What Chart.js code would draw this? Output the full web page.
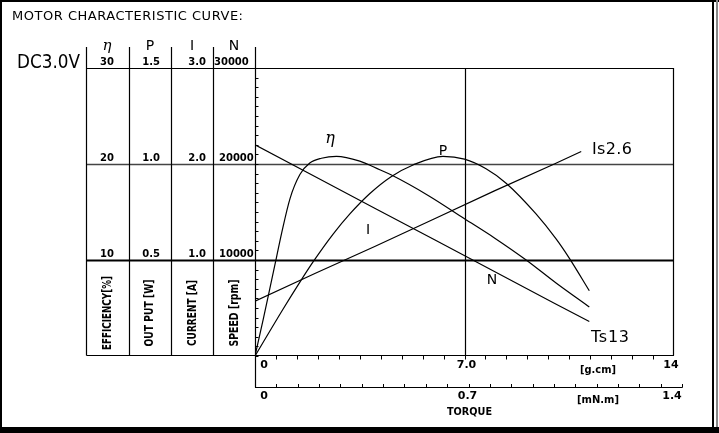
<!DOCTYPE html>
<html>
<head>
<meta charset="utf-8">
<style>
  html, body { margin: 0; padding: 0; background: #fff; }
  canvas { display: block; }
</style>
<script src="https://cdn.jsdelivr.net/npm/chart.js@4"></script>
</head>
<body>
<canvas id="motorChart" width="719" height="433"></canvas>
<script>
// values (torque in g.cm)
const torqueEta = [0, 0.28, 0.44, 0.72, 0.89, 1.17, 1.5, 1.83, 2.22, 2.72, 3.5, 4.17, 4.56, 5.8, 7.0, 8.0, 9.06, 10.06, 11.17];
const efficiency = [0, 3.9, 6.2, 10.3, 12.8, 16.4, 18.9, 20.1, 20.6, 20.8, 20.3, 19.4, 18.85, 16.7, 14.3, 12.3, 10.0, 7.6, 5.1];

const torqueP = [0, 0.94, 1.5, 1.94, 2.61, 3.17, 3.83, 4.56, 5.28, 6.28, 7.0, 7.72, 8.39, 9.39, 10.06, 10.5, 11.17];
const outputPower = [0, 0.245, 0.385, 0.49, 0.635, 0.74, 0.845, 0.935, 0.995, 1.04, 1.025, 0.975, 0.9, 0.74, 0.61, 0.51, 0.34];

const torqueI = [0, 2, 4, 6, 8, 10, 10.9];
const current = [0.57, 0.86, 1.14, 1.43, 1.72, 2.00, 2.13];

const torqueN = [0, 2, 4, 6, 8, 10, 11.17];
const speed = [22000, 18700, 15400, 12100, 8800, 5500, 3600];

const columnHeads = ['η', 'P', 'I', 'N'];
const columnNames = ['EFFICIENCY[%]', 'OUT PUT [W]', 'CURRENT [A]', 'SPEED [rpm]'];
const rowSpeeds = [30000, 20000, 10000];
const rowLabels = [
  ['30', '1.5', '3.0', '30000'],
  ['20', '1.0', '2.0', '20000'],
  ['10', '0.5', '1.0', '10000']
];
const gcmTicks = [0, 7, 14];
const gcmLabels = ['0', '7.0', '14'];
const mnmTicks = [0, 0.7, 1.4];
const mnmLabels = ['0', '0.7', '1.4'];

function pts(xs, ys) {
  return xs.map((v, i) => ({ x: v, y: ys[i] }));
}

function line(ctx, x1, y1, x2, y2, w, color) {
  ctx.beginPath();
  ctx.lineWidth = w || 1;
  ctx.strokeStyle = color || '#000';
  ctx.moveTo(x1, y1);
  ctx.lineTo(x2, y2);
  ctx.stroke();
}

function text(ctx, s, x, y, font, align, width) {
  ctx.font = font;
  ctx.textAlign = align || 'left';
  ctx.fillStyle = '#000';
  if (width) {
    const w = ctx.measureText(s).width;
    if (w > width) {
      ctx.fillText(s, x, y, width);
    } else {
      ctx.letterSpacing = ((width - w) / Math.max(1, s.length - 1)) + 'px';
      ctx.fillText(s, x, y);
      ctx.letterSpacing = '0px';
    }
  } else {
    ctx.fillText(s, x, y);
  }
}

const sheet = {
  id: 'sheet',
  beforeDatasetsDraw(chart) {
    const ctx = chart.ctx;
    const x = chart.scales.x, yN = chart.scales.yN;
    const L = x.left, R = x.right;
    const tableLeft = 86.5;
    const cols = [86.5, 129.5, 171.5, 213.5, 255.5];
    const axisY = 355.5;
    ctx.save();

    // outer frame
    ctx.fillStyle = '#000';
    ctx.fillRect(0, 0, 719, 2);
    ctx.fillRect(0, 0, 2, 433);
    ctx.fillRect(712, 0, 2, 433);
    ctx.fillStyle = '#888';
    ctx.fillRect(716, 0, 2, 433);
    ctx.fillStyle = '#000';
    ctx.fillRect(0, 427, 719, 6);

    // table + grid
    rowSpeeds.forEach(v => {
      const py = Math.round(yN.getPixelForValue(v)) + 0.5;
      if (v === 10000) line(ctx, tableLeft, py, R, py, 2, '#000');
      else if (v === 20000) line(ctx, tableLeft, py, R, py, 1.3, '#444');
      else line(ctx, tableLeft, py, R, py, 1.2, '#000');
    });
    line(ctx, tableLeft, axisY, R, axisY, 1.2);
    cols.forEach(cx => line(ctx, cx, 47, cx, axisY, 1.2));
    line(ctx, L + 0.5, axisY, L + 0.5, 387.5, 1.2);
    const x7 = Math.round(x.getPixelForValue(7)) + 0.5;
    line(ctx, x7, yN.top, x7, axisY, 1.2);
    line(ctx, R - 0.5, yN.top, R - 0.5, axisY, 1.2);

    // speed minor ticks
    for (let v = 0; v <= 30000; v += 1000) {
      const py = Math.round(yN.getPixelForValue(v)) + 0.5;
      line(ctx, L, py, L + 3.5, py, 1);
    }
    // g.cm ticks
    for (let i = 1; i < 20; i++) {
      const px = Math.round(x.getPixelForValue(i * 0.7)) + 0.5;
      line(ctx, px, axisY, px, axisY + 4, 1);
    }
    // mN.m axis
    const mnmX = v => L + v / 1.4 * 427;
    line(ctx, L, 387.5, mnmX(1.4) + 0.5, 387.5, 1.2);
    for (let i = 1; i <= 20; i++) {
      const px = Math.round(mnmX(i * 0.07)) + 0.5;
      line(ctx, px, 387.5, px, 384, 1);
    }
    ctx.restore();
  },
  afterDatasetsDraw(chart) {
    const ctx = chart.ctx;
    const x = chart.scales.x, yN = chart.scales.yN;
    const L = x.left;
    ctx.save();
    ctx.textBaseline = 'alphabetic';

    text(ctx, 'MOTOR CHARACTERISTIC CURVE:', 12, 20, '13px "DejaVu Sans"', 'left', 231);
    text(ctx, 'DC3.0V', 17, 68, '19px "DejaVu Sans"', 'left', 63);

    const centers = [107, 150, 192, 234];
    columnHeads.forEach((h, i) => {
      const f = i === 0 ? 'italic 15px "DejaVu Serif"' : '14px "DejaVu Sans"';
      text(ctx, h, centers[i], 50, f, 'center');
    });
    rowSpeeds.forEach((v, r) => {
      const base = Math.round(yN.getPixelForValue(v)) - 3;
      const f = 'bold 10px "DejaVu Sans"';
      text(ctx, rowLabels[r][0], 107, base, f, 'center');
      text(ctx, rowLabels[r][1], 160, base, f, 'right');
      text(ctx, rowLabels[r][2], 206, base, f, 'right');
      text(ctx, rowLabels[r][3], r === 0 ? 214 : 219, base, f, 'left');
    });

    // rotated column names
    const rotX = [108, 150, 193, 235];
    const rotW = [74, 67, 66, 67];
    columnNames.forEach((s, i) => {
      ctx.save();
      ctx.translate(rotX[i], 313);
      ctx.rotate(-Math.PI / 2);
      ctx.textBaseline = 'middle';
      ctx.font = 'bold 13px "DejaVu Sans"';
      ctx.textAlign = 'center';
      ctx.fillStyle = '#000';
      ctx.fillText(s, 0, 0, rotW[i]);
      ctx.restore();
    });

    // curve labels
    text(ctx, 'η', 330, 143, 'italic 16px "DejaVu Serif"', 'center');
    text(ctx, 'P', 443, 155, '14px "DejaVu Sans"', 'center');
    text(ctx, 'I', 368, 234, '14px "DejaVu Sans"', 'center');
    text(ctx, 'N', 492, 284, '14px "DejaVu Sans"', 'center');
    text(ctx, 'Is2.6', 592, 154, '16px "DejaVu Sans"', 'left', 40);
    text(ctx, 'Ts13', 591, 342, '16px "DejaVu Sans"', 'left', 38);

    // torque axes labels
    const fb = 'bold 11px "DejaVu Sans"';
    gcmTicks.forEach((t, i) => {
      const px = x.getPixelForValue(t);
      const dx = i === 0 ? 9 : (i === 1 ? 2 : -3);
      text(ctx, gcmLabels[i], px + dx, 368, fb, 'center');
    });
    text(ctx, '[g.cm]', 598, 373, 'bold 10px "DejaVu Sans"', 'center', 36);
    mnmTicks.forEach((t, i) => {
      const px = L + t / 1.4 * 427;
      const dx = i === 0 ? 9 : (i === 1 ? -1 : -10);
      text(ctx, mnmLabels[i], px + dx, 399, fb, 'center');
    });
    text(ctx, '[mN.m]', 598, 403, 'bold 10px "DejaVu Sans"', 'center', 42);
    text(ctx, 'TORQUE', 447, 415, 'bold 10px "DejaVu Sans"', 'left', 45);
    ctx.restore();
  }
};

const curve = (data, axis, smooth) => ({
  data: data,
  yAxisID: axis,
  showLine: true,
  borderColor: '#000',
  borderWidth: 1.2,
  pointRadius: 0,
  fill: false,
  cubicInterpolationMode: smooth ? 'monotone' : 'default',
  tension: 0
});

new Chart(document.getElementById('motorChart'), {
  type: 'scatter',
  data: {
    datasets: [
      curve(pts(torqueEta, efficiency), 'yEta', true),
      curve(pts(torqueP, outputPower), 'yP', true),
      curve(pts(torqueI, current), 'yI', false),
      curve(pts(torqueN, speed), 'yN', false)
    ]
  },
  options: {
    responsive: false,
    devicePixelRatio: 1,
    animation: false,
    layout: { padding: { left: 255, right: 45, top: 68, bottom: 77 } },
    plugins: { legend: { display: false }, tooltip: { enabled: false } },
    scales: {
      x: { type: 'linear', min: 0, max: 14, display: false },
      yN: { type: 'linear', min: 0, max: 30000, display: false },
      yEta: { type: 'linear', min: 0, max: 30, display: false },
      yP: { type: 'linear', min: 0, max: 1.5, display: false },
      yI: { type: 'linear', min: 0, max: 3, display: false }
    }
  },
  plugins: [sheet]
});
</script>
</body>
</html>
